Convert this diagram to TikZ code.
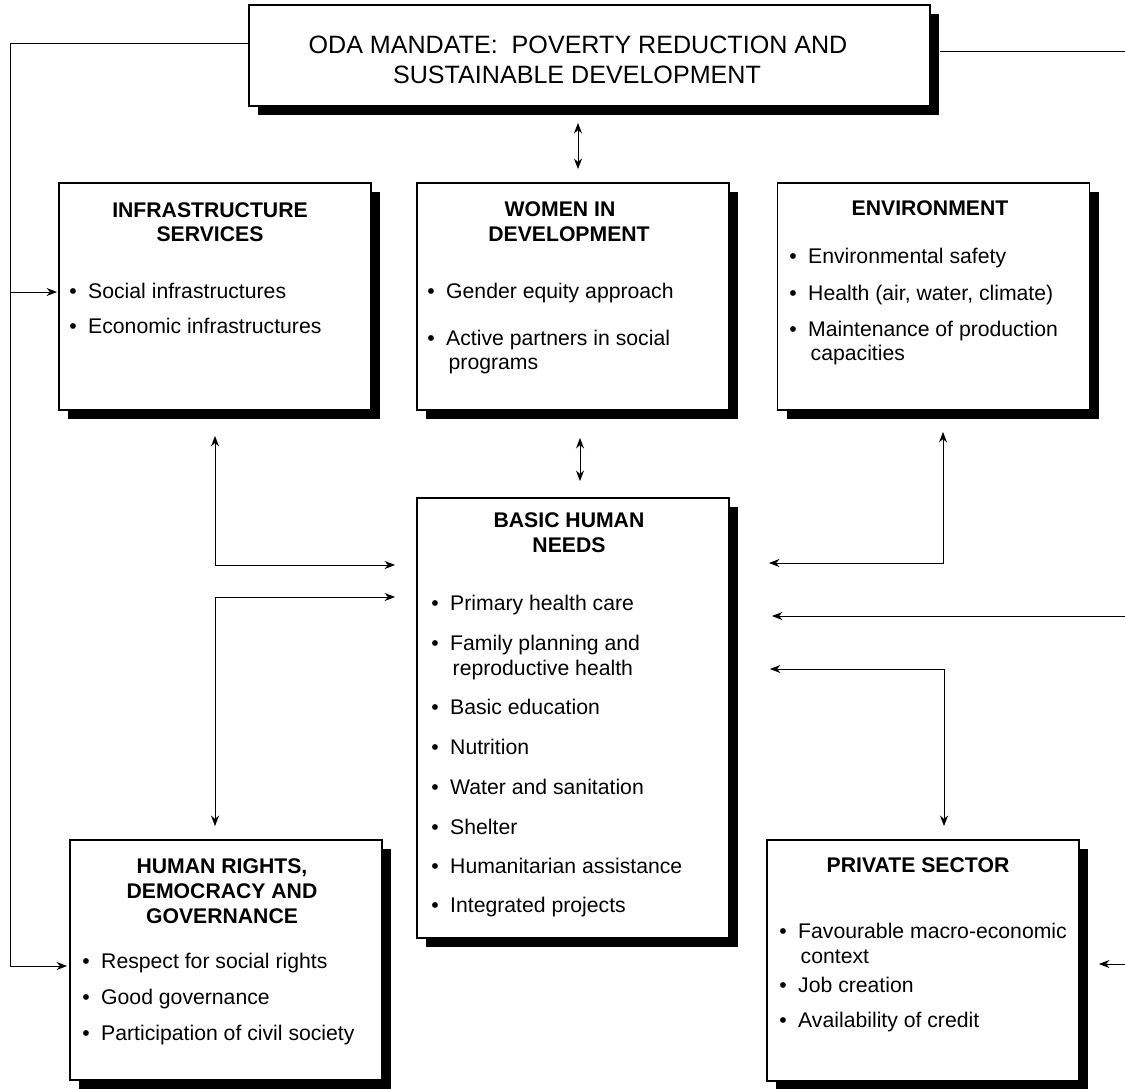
\documentclass[tikz,border=0pt]{standalone}
\usepackage{fontspec}
\setmainfont{Liberation Sans}
\usetikzlibrary{arrows.meta,calc,shadows}
\tikzset{
  box/.style={draw=black, line width=1.9pt, fill=white, minimum width=312pt, inner sep=0pt,
    drop shadow={shadow xshift=9pt, shadow yshift=-8.5pt, fill=black, opacity=1}},
  plain/.style={line width=0.9pt},
  conn/.style={line width=0.9pt, -{Stealth[length=10.5pt,width=8pt]}},
  both/.style={line width=0.9pt, {Stealth[length=10.5pt,width=8pt]}-{Stealth[length=10.5pt,width=8pt]}},
  head/.style={font=\fontsize{21.2}{25}\selectfont\bfseries, anchor=base, inner sep=0pt},
  item/.style={font=\fontsize{21.2}{25}\selectfont, anchor=base west, inner sep=0pt},
  title/.style={font=\fontsize{25.1}{30}\selectfont, anchor=base, inner sep=0pt},
}
\newcommand\myitem[4]{\node[item] (#1) at (#2,#3) {\llap{\textbullet\hspace{11.3pt}}#4};}
\newcommand\mycont[4]{\node[item] (#1) at (#2,#3) {\hspace{2.5pt}#4};}
\begin{document}
\begin{tikzpicture}[x=1pt,y=-1pt]
\fill[white] (0,0) rectangle (1125,1088);
\useasboundingbox (0,0) rectangle (1125,1088);

% boxes
\node[box, minimum width=681pt, minimum height=101pt] (oda) at (589.5,55.5) {};
\node[box, minimum height=227pt] (infra) at (215,296.5) {};
\node[box, minimum height=227pt] (women) at (573,296.5) {};
\node[box, minimum height=227pt] (env) at (933.5,296.5) {};
\node[box, minimum height=440pt] (bhn) at (573,718) {};
\node[box, minimum height=240pt] (hr) at (226,960) {};
\node[box, minimum height=241pt] (ps) at (923,960.5) {};

% top box text
\node[title] (oda1) at (578,53) {ODA MANDATE:\ \ POVERTY REDUCTION AND};
\node[title] (oda2) at (577,83) {SUSTAINABLE DEVELOPMENT};

% infrastructure
\node[head] (infh1) at (210,217) {INFRASTRUCTURE};
\node[head] (infh2) at (210,241) {SERVICES};
\myitem{inf1}{88}{298}{Social infrastructures}
\myitem{inf2}{88}{333}{Economic infrastructures}

% women
\node[head] (womh1) at (560,216) {WOMEN IN};
\node[head] (womh2) at (569,241) {DEVELOPMENT};
\myitem{wom1}{446}{298}{Gender equity approach}
\myitem{wom2}{446}{345}{Active partners in social}
\mycont{wom2b}{446}{369}{programs}

% environment
\node[head] (envh) at (930,215) {ENVIRONMENT};
\myitem{env1}{808}{263}{Environmental safety}
\myitem{env2}{808}{300}{Health (air, water, climate)}
\myitem{env3}{808}{336}{Maintenance of production}
\mycont{env3b}{808}{360}{capacities}

% basic human needs
\node[head] (bhnh1) at (569,527) {BASIC HUMAN};
\node[head] (bhnh2) at (569,552) {NEEDS};
\myitem{bhn1}{450}{610}{Primary health care}
\myitem{bhn2}{450}{650}{Family planning and}
\mycont{bhn2b}{450}{675}{reproductive health}
\myitem{bhn3}{450}{714}{Basic education}
\myitem{bhn4}{450}{754}{Nutrition}
\myitem{bhn5}{450}{794}{Water and sanitation}
\myitem{bhn6}{450}{834}{Shelter}
\myitem{bhn7}{450}{873}{Humanitarian assistance}
\myitem{bhn8}{450}{912}{Integrated projects}

% human rights
\node[head] (hrh1) at (222,873) {HUMAN RIGHTS,};
\node[head] (hrh2) at (222,898) {DEMOCRACY AND};
\node[head] (hrh3) at (222,923) {GOVERNANCE};
\myitem{hr1}{101}{968}{Respect for social rights}
\myitem{hr2}{101}{1004}{Good governance}
\myitem{hr3}{101}{1040}{Participation of civil society}

% private sector
\node[head] (psh) at (918,872) {PRIVATE SECTOR};
\myitem{ps1}{798}{938}{Favourable macro-economic}
\mycont{ps1b}{798}{963}{context}
\myitem{ps2}{798}{992}{Job creation}
\myitem{ps3}{798}{1027}{Availability of credit}

% helper coordinates
\coordinate (lt) at (10,43);
\coordinate (lm) at (10,292);
\coordinate (lb) at (10,966);
\coordinate (rt) at (1125,51);
\coordinate (r1) at (1125,616);
\coordinate (r2) at (1125,964);
\coordinate (ax1) at (578,0);
\coordinate (ax2) at (580,0);
\coordinate (c1) at (215,565);
\coordinate (c2) at (215,597);
\coordinate (c3) at (943,563);
\coordinate (c4) at (944,669);

% connectors
\draw[conn, shorten >=2pt] (oda.west |- lt) -- (lt) -- (lb) -- (hr.west |- lb);
\draw[conn, shorten >=1pt] (lm) -- (infra.west |- lm);
\draw[plain] ($(oda.east |- rt)+(9,0)$) -- (rt);
\draw[conn, shorten >=42pt] (r1) -- (bhn.east |- r1);
\draw[conn, shorten >=19pt] (r2) -- (ps.east |- r2);
\draw[both, shorten <=16pt, shorten >=13pt] (ax1 |- oda.south) -- (ax1 |- women.north);
\draw[both, shorten <=27pt, shorten >=16pt] (ax2 |- women.south) -- (ax2 |- bhn.north);
\draw[both, shorten <=25pt, shorten >=21pt] (infra.south) -- (c1) -- (bhn.west |- c1);
\draw[both, shorten <=21pt, shorten >=13pt] (bhn.west |- c2) -- (c2) -- (c2 |- hr.north);
\draw[both, shorten <=21pt, shorten >=39pt] (c3 |- env.south) -- (c3) -- (bhn.east |- c3);
\draw[both, shorten <=40pt, shorten >=13pt] (bhn.east |- c4) -- (c4) -- (c4 |- ps.north);
\end{tikzpicture}
\end{document}
